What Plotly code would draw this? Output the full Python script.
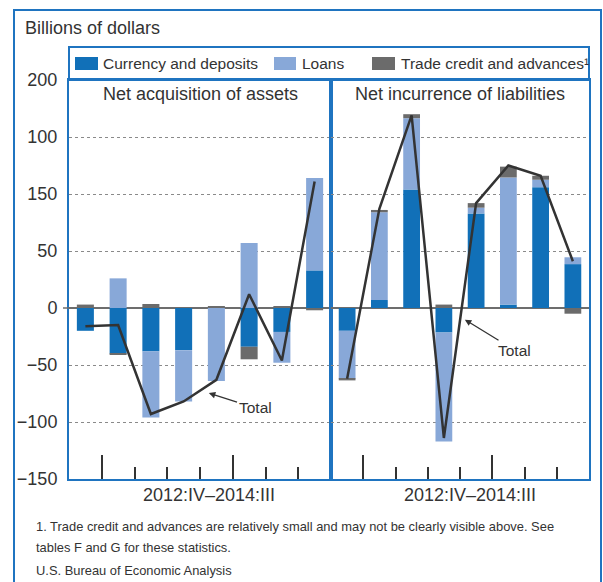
"""
Net acquisition of assets / net incurrence of liabilities, 2012:IV-2014:III.
Stacked components with the total drawn as a line on top.
"""
import plotly.graph_objects as go

# -- DATA -------------------------------------------------------------------
QUARTERS = ["2012:IV", "2013:I", "2013:II", "2013:III",
            "2013:IV", "2014:I", "2014:II", "2014:III"]

ASSET_CURRENCY = [-20, -40, -38, -37, 0, -34, -21, 33]
ASSET_LOANS = [0, 26, -58, -45, -64, 57, -27, 81]
ASSET_TRADE = [3, -1, 3.5, 0, 1, -11, 1, -2]
ASSET_TOTAL = [-16, -15, -93, -82, -63, 12, -46, 111]

LIAB_CURRENCY = [-20, 7, 104, -21.5, 83, 3, 106, 38.5]
LIAB_LOANS = [-42, 77, 62.5, -95.5, 5, 111.5, 6.5, 6]
LIAB_TRADE = [-1.5, 2, 3.5, 3, 4, 9.5, 3.5, -5]
LIAB_TOTAL = [-62, 87, 169, -114, 92, 125, 116, 41]

Y_TICKVALS = [200, 150, 100, 50, 0, -50, -100, -150]
Y_TICKTEXT = ["200", "100", "150", "50", "0", "\u221250", "\u2212100", "\u2212150"]

SERIES_NAMES = ["Currency and deposits", "Loans", "Trade credit and advances"]

# -- STYLE ------------------------------------------------------------------
W, H = 603, 582
BLUE_DARK = "#1170B8"
BLUE_LIGHT = "#88A8D8"
GRAY_BAR = "#6B6B6B"
FRAME = "#1F74C0"
INK = "#333333"
FONT = "Liberation Sans, Arial, sans-serif"
COLORS = [BLUE_DARK, BLUE_LIGHT, GRAY_BAR]


def px(x):
    return x / W


def py(y):
    return 1 - y / H


fig = go.Figure()
xs = list(range(len(QUARTERS)))

panels = [
    ("x", "y", [ASSET_CURRENCY, ASSET_LOANS, ASSET_TRADE], ASSET_TOTAL),
    ("x2", "y2", [LIAB_CURRENCY, LIAB_LOANS, LIAB_TRADE], LIAB_TOTAL),
]
for xa, ya, comps, total in panels:
    for name, vals, col in zip(SERIES_NAMES, comps, COLORS):
        fig.add_trace(go.Bar(
            x=xs, y=vals, name=name, xaxis=xa, yaxis=ya, width=0.52,
            marker=dict(color=col, line=dict(width=0)),
            customdata=QUARTERS, hovertemplate="%{customdata}: %{y}<extra>" + name + "</extra>",
            showlegend=False,
        ))
    fig.add_trace(go.Scatter(
        x=xs, y=total, mode="lines", name="Total", xaxis=xa, yaxis=ya,
        line=dict(color=INK, width=2.5), customdata=QUARTERS,
        hovertemplate="%{customdata}: %{y}<extra>Total</extra>", showlegend=False,
    ))

xaxis_common = dict(
    range=[-0.5, 7.5], showline=True, mirror=True, linecolor=FRAME, linewidth=2,
    showgrid=False, zeroline=False, showticklabels=False, automargin=False,
    tickvals=[0.5, 4.5], ticks="inside", ticklen=24, tickwidth=1.5, tickcolor=INK,
    minor=dict(tickvals=[1.5, 2.5, 3.5, 5.5, 6.5], ticks="inside", ticklen=12,
               tickwidth=1.5, tickcolor=INK, showgrid=False),
)
yaxis_common = dict(
    range=[-150, 200], showline=True, mirror=True, linecolor=FRAME, linewidth=2,
    tickvals=Y_TICKVALS, ticktext=Y_TICKTEXT, ticks="", automargin=False,
    showgrid=True, gridcolor="#8a8a8a", gridwidth=1, griddash="dot",
    zeroline=True, zerolinecolor="#6d6d6d", zerolinewidth=2,
)

y_dom = [py(479), py(80)]
fig.update_layout(
    width=W, height=H, margin=dict(l=0, r=0, t=0, b=0, pad=0), autosize=False,
    plot_bgcolor="white", paper_bgcolor="white",
    font=dict(family=FONT, color=INK),
    barmode="relative", bargap=0.48,
    xaxis=dict(domain=[px(69), px(331)], anchor="y", **xaxis_common),
    xaxis2=dict(domain=[px(331), px(589)], anchor="y2", **xaxis_common),
    yaxis=dict(domain=y_dom, anchor="x", showticklabels=True,
               tickfont=dict(size=18, color=INK), ticklabelstandoff=6, **yaxis_common),
    yaxis2=dict(domain=y_dom, anchor="x2", showticklabels=False, **yaxis_common),
)

# -- FRAME, LEGEND BOX ------------------------------------------------------
shapes = [
    dict(type="rect", xref="paper", yref="paper", x0=px(14), x1=px(601),
         y0=py(10), y1=py(590), line=dict(color=FRAME, width=2)),
    dict(type="rect", xref="paper", yref="paper", x0=px(69), x1=px(589),
         y0=py(47), y1=py(80), line=dict(color=FRAME, width=2)),
    dict(type="line", xref="paper", yref="y", x0=px(63), x1=px(69), y0=0, y1=0,
         line=dict(color="#6d6d6d", width=1.5)),
]
legend_pos = [(75, 98, 101), (274, 296, 300), (372, 395, 399)]
legend_text = ["Currency and deposits", "Loans", "Trade credit and advances\u00b9"]
annotations = []
for (s0, s1, tx), col, txt in zip(legend_pos, COLORS, legend_text):
    shapes.append(dict(type="rect", xref="paper", yref="paper", x0=px(s0), x1=px(s1),
                       y0=py(57), y1=py(70), fillcolor=col, line=dict(width=0)))
    annotations.append(dict(x=px(tx), y=py(63.5), xref="paper", yref="paper",
                            text=txt, showarrow=False, xanchor="left", yanchor="middle",
                            font=dict(size=15.5, color=INK)))


def note(x, y, text, size, xanchor="center"):
    annotations.append(dict(x=px(x), y=py(y), xref="paper", yref="paper", text=text,
                            showarrow=False, xanchor=xanchor, yanchor="middle",
                            font=dict(size=size, color=INK)))


note(22.7, 28, "Billions of dollars", 18, "left")
note(200, 94, "Net acquisition of assets", 18)
note(460, 94, "Net incurrence of liabilities", 18)
note(209.5, 495, "2012:IV\u20132014:III", 18)
note(470, 495, "2012:IV\u20132014:III", 18)
note(34, 526, "1. Trade credit and advances are relatively small and may not be clearly "
              "visible above. See", 12.9, "left")
note(34, 547, "tables F and G for these statistics.", 12.9, "left")
note(34, 570, "U.S. Bureau of Economic Analysis", 12.9, "left")

# "Total" callouts
for xr, yr, tip, txt_pos in [("x", "y", (3.77, -74.6), (5.18, -87.7)),
                             ("x2", "y2", (3.65, -10.2), (5.2, -37.1))]:
    annotations.append(dict(
        x=tip[0], y=tip[1], xref=xr, yref=yr, ax=txt_pos[0], ay=txt_pos[1],
        axref=xr, ayref=yr, text="Total", showarrow=True, arrowhead=2,
        arrowsize=1, arrowwidth=1.3, arrowcolor=INK, font=dict(size=15.5, color=INK),
    ))

fig.update_layout(shapes=shapes, annotations=annotations)

# page body margin would push the fixed-size figure off the window
fig.write_html("out.html", config={"displayModeBar": False},
               post_script="document.body.style.margin='0';")
